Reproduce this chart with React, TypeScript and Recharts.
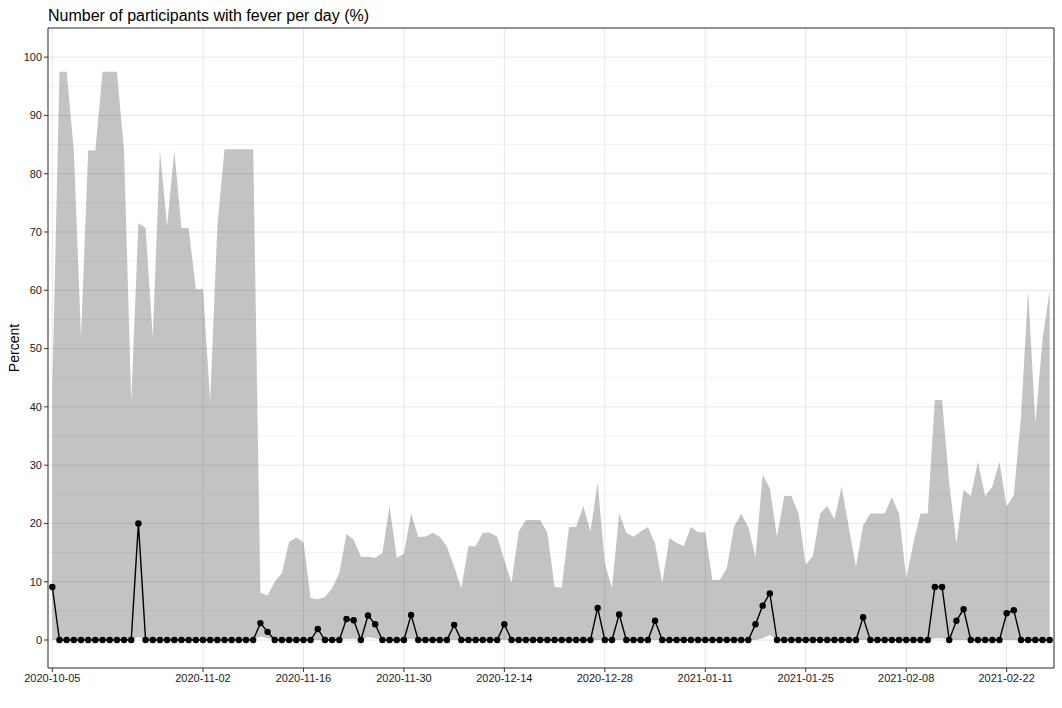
import React from "react";
import {
  ComposedChart,
  Area,
  Line,
  XAxis,
  YAxis,
  CartesianGrid,
  ReferenceArea,
} from "recharts";

// daily share of participants with fever (%), one value per study day
const FEVER = [
  9.1, 0, 0, 0, 0, 0, 0, 0, 0, 0, 0, 0, 20, 0, 0, 0, 0, 0, 0, 0,
  0, 0, 0, 0, 0, 0, 0, 0, 0, 2.9, 1.4, 0, 0, 0, 0, 0, 0, 1.9, 0, 0,
  0, 3.6, 3.4, 0, 4.2, 2.7, 0, 0, 0, 0, 4.3, 0, 0, 0, 0, 0, 2.6, 0, 0, 0,
  0, 0, 0, 2.7, 0, 0, 0, 0, 0, 0, 0, 0, 0, 0, 0, 0, 5.5, 0, 0, 4.4,
  0, 0, 0, 0, 3.3, 0, 0, 0, 0, 0, 0, 0, 0, 0, 0, 0, 0, 0, 2.7, 5.9,
  8.0, 0, 0, 0, 0, 0, 0, 0, 0, 0, 0, 0, 0, 3.9, 0, 0, 0, 0, 0, 0,
  0, 0, 0, 9.1, 9.1, 0, 3.3, 5.3, 0, 0, 0, 0, 0, 4.6, 5.1, 0, 0, 0, 0, 0,
];

// confidence band, upper edge
const CI_HIGH = [
  43, 97.5, 97.5, 84, 52, 84, 84, 97.5, 97.5, 97.5, 84, 41, 71.5, 70.7, 52, 84, 71, 84, 70.7, 70.7,
  60.2, 60.2, 41, 71, 84.2, 84.2, 84.2, 84.2, 84.2, 8.1, 7.7, 10, 11.5, 16.8, 17.6, 16.8, 7.2, 7.0, 7.4, 8.9,
  11.5, 18.2, 17.2, 14.3, 14.3, 14.1, 14.9, 23.0, 14.1, 14.8, 21.7, 17.7, 17.7, 18.4, 17.7, 16.0, 12.6, 8.9, 16.1, 16.1,
  18.4, 18.4, 17.7, 13.7, 9.8, 18.6, 20.6, 20.6, 20.6, 18.4, 9.1, 9.0, 19.4, 19.4, 23.0, 18.6, 27.0, 13.2, 8.9, 21.7,
  18.4, 17.7, 18.6, 19.4, 16.6, 9.8, 17.5, 16.7, 16.1, 19.4, 18.5, 18.5, 10.3, 10.3, 12.3, 19.4, 21.7, 19.4, 14.3, 28.4,
  26.0, 17.7, 24.7, 24.7, 21.7, 12.9, 14.4, 21.7, 23.0, 20.7, 26.3, 19.4, 12.6, 19.7, 21.7, 21.7, 21.7, 24.5, 21.7, 10.6,
  16.6, 21.7, 21.7, 41.2, 41.2, 26.9, 16.6, 25.8, 24.7, 30.6, 24.7, 26.3, 30.6, 22.9, 24.9, 38.3, 60.0, 37.2, 51.5, 60.0,
];

// confidence band, lower edge
const CI_LOW = [
  0, 0, 0, 0, 0, 0, 0, 0, 0, 0, 0, 0, 0.5, 0, 0, 0, 0, 0, 0, 0,
  0, 0, 0, 0, 0, 0, 0, 0, 0, 0.6, 0.3, 0, 0, 0, 0, 0, 0, 0, 0, 0,
  0, 0.2, 0.2, 0, 0.5, 0.3, 0, 0, 0, 0, 0.2, 0, 0, 0, 0, 0, 0, 0, 0, 0,
  0, 0, 0, 0, 0, 0, 0, 0, 0, 0, 0, 0, 0, 0, 0, 0, 0, 0, 0, 0,
  0, 0, 0, 0, 0, 0, 0, 0, 0, 0, 0, 0, 0, 0, 0, 0, 0, 0, 0, 0.3,
  0.9, 0, 0, 0, 0, 0, 0, 0, 0, 0, 0, 0, 0, 0, 0, 0, 0, 0, 0, 0,
  0, 0, 0, 0.3, 0.3, 0, 0, 0, 0, 0, 0, 0, 0, 0, 0, 0, 0, 0, 0, 0,
];

const TICK_DAYS = [0, 21, 35, 49, 63, 77, 91, 105, 119, 133];
const TICK_LABELS = [
  "2020-10-05",
  "2020-11-02",
  "2020-11-16",
  "2020-11-30",
  "2020-12-14",
  "2020-12-28",
  "2021-01-11",
  "2021-01-25",
  "2021-02-08",
  "2021-02-22",
];
const Y_TICKS = [0, 10, 20, 30, 40, 50, 60, 70, 80, 90, 100];
const Y_MINOR = [5, 15, 25, 35, 45, 55, 65, 75, 85, 95];

const FONT = '"Liberation Sans", Arial, sans-serif';
const X_DOMAIN = [-0.6, 139.6];
const Y_DOMAIN = [-4.8, 105];

const data = FEVER.map((v, i) => ({
  day: i,
  fever: v,
  band: [CI_LOW[i], CI_HIGH[i]],
}));

function dayLabel(d: number) {
  const k = TICK_DAYS.indexOf(d);
  return k >= 0 ? TICK_LABELS[k] : "";
}

export default function App() {
  return (
    <div
      style={{
        position: "absolute",
        left: 0,
        top: 0,
        width: 1062,
        height: 708,
        background: "#fff",
        fontFamily: FONT,
      }}
    >
      <ComposedChart
        width={1062}
        height={708}
        data={data}
        margin={{ top: 28, right: 8, bottom: 10, left: 8 }}
      >
        <CartesianGrid
          horizontalValues={Y_MINOR}
          vertical={false}
          stroke="#ebebeb"
          strokeWidth={0.6}
        />
        <CartesianGrid stroke="#e6e6e6" strokeWidth={1} />
        <XAxis
          dataKey="day"
          type="number"
          domain={X_DOMAIN}
          ticks={TICK_DAYS}
          interval={0}
          tickFormatter={dayLabel}
          axisLine={false}
          tickLine={{ stroke: "#333" }}
          tickSize={4}
          tickMargin={2}
          height={30}
          tick={{ fill: "#1a1a1a", fontSize: 11, fontFamily: FONT }}
        />
        <YAxis
          type="number"
          domain={Y_DOMAIN}
          ticks={Y_TICKS}
          interval={0}
          axisLine={false}
          tickLine={{ stroke: "#333" }}
          tickSize={4}
          tickMargin={2}
          width={40}
          tick={{ fill: "#1a1a1a", fontSize: 11, fontFamily: FONT }}
        />
        <Area
          dataKey="band"
          type="linear"
          fill="#000"
          fillOpacity={0.235}
          stroke="none"
          isAnimationActive={false}
        />
        <Line
          dataKey="fever"
          type="linear"
          stroke="#000"
          strokeWidth={1.4}
          dot={{ r: 3.2, fill: "#000", stroke: "#000", strokeWidth: 0 }}
          activeDot={false}
          isAnimationActive={false}
        />
        <ReferenceArea
          x1={X_DOMAIN[0]}
          x2={X_DOMAIN[1]}
          y1={Y_DOMAIN[0]}
          y2={Y_DOMAIN[1]}
          fill="none"
          stroke="#333"
          strokeWidth={1}
          ifOverflow="visible"
        />
      </ComposedChart>
      <svg
        width={1062}
        height={708}
        style={{ position: "absolute", left: 0, top: 0, pointerEvents: "none" }}
      >
        <text x={48} y={20.5} fontSize={16} fill="#000" fontFamily={FONT}>
          Number of participants with fever per day (%)
        </text>
        <text
          x={0}
          y={0}
          transform="translate(19 348) rotate(-90)"
          textAnchor="middle"
          fontSize={14}
          fill="#000"
          fontFamily={FONT}
        >
          Percent
        </text>
      </svg>
    </div>
  );
}
